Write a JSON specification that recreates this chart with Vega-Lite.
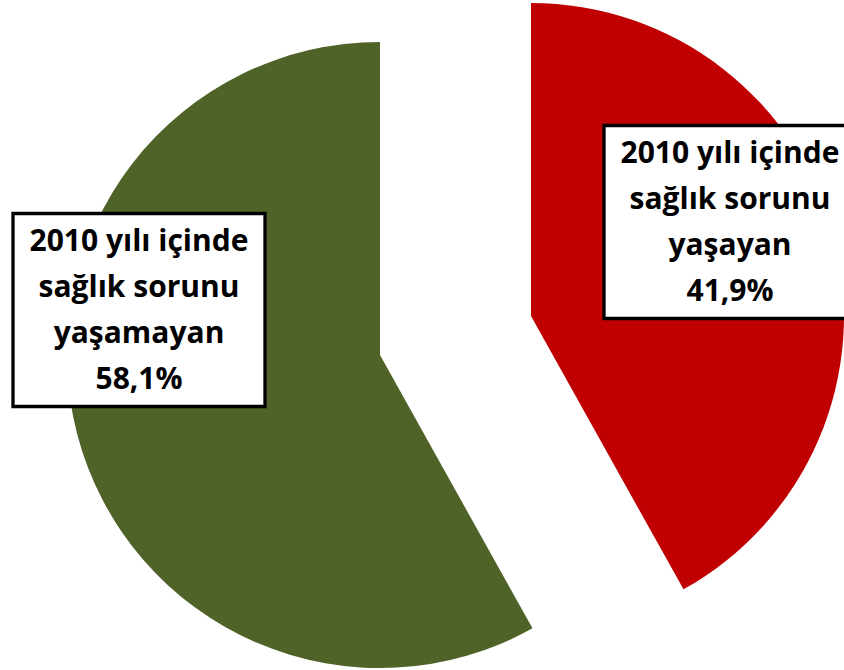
{
  "$schema": "https://vega.github.io/schema/vega-lite/v6.json",
  "width": 844,
  "height": 670,
  "autosize": {"type": "none"},
  "padding": 0,
  "background": "white",
  "config": {"view": {"stroke": null}},
  "data": {
    "values": [
      {"grup": "yaşayan", "oran": 41.9, "etiket": "2010 yılı içinde\nsağlık sorunu\nyaşayan\n41,9%"},
      {"grup": "yaşamayan", "oran": 58.1, "etiket": "2010 yılı içinde\nsağlık sorunu\nyaşamayan\n58,1%"}
    ]
  },
  "layer": [
    {
      "mark": {"type": "arc", "outerRadius": 313},
      "encoding": {
        "theta": {"field": "oran", "type": "quantitative", "stack": true},
        "order": {"field": "grup", "sort": "descending"},
        "color": {"field": "grup", "type": "nominal", "scale": {"domain": ["yaşayan", "yaşamayan"], "range": ["#C00000", "#4F6228"]}, "legend": null},
        "x": {"field": "grup", "type": "nominal", "axis": null, "scale": {"type": "point", "domain": ["yaşamayan", "yaşayan"], "range": [380, 531], "padding": 0}},
        "y": {"field": "grup", "type": "nominal", "axis": null, "scale": {"type": "point", "domain": ["yaşamayan", "yaşayan"], "range": [355, 316], "padding": 0}}
      }
    },
    {
      "layer": [
        {
          "mark": {"type": "point", "shape": "M-1,-0.766H1V0.766H-1Z", "filled": false, "fill": "white", "fillOpacity": 1, "stroke": "black", "strokeWidth": 3.3, "opacity": 1, "size": 63504},
          "encoding": {
            "x": {"field": "grup", "type": "nominal", "axis": null, "scale": {"type": "point", "domain": ["yaşamayan", "yaşayan"], "range": [139, 730], "padding": 0}},
            "y": {"field": "grup", "type": "nominal", "axis": null, "scale": {"type": "point", "domain": ["yaşamayan", "yaşayan"], "range": [310, 222], "padding": 0}}
          }
        },
        {
          "mark": {"type": "text", "font": "Open Sans", "fontWeight": "bold", "fontSize": 30, "lineHeight": 46, "lineBreak": "\n", "align": "center", "baseline": "middle", "dy": -68, "color": "black"},
          "encoding": {
            "text": {"field": "etiket", "type": "nominal"},
            "x": {"field": "grup", "type": "nominal", "axis": null, "scale": {"type": "point", "domain": ["yaşamayan", "yaşayan"], "range": [139, 730], "padding": 0}},
            "y": {"field": "grup", "type": "nominal", "axis": null, "scale": {"type": "point", "domain": ["yaşamayan", "yaşayan"], "range": [310, 222], "padding": 0}}
          }
        }
      ]
    }
  ],
  "resolve": {"scale": {"x": "independent", "y": "independent"}}
}
